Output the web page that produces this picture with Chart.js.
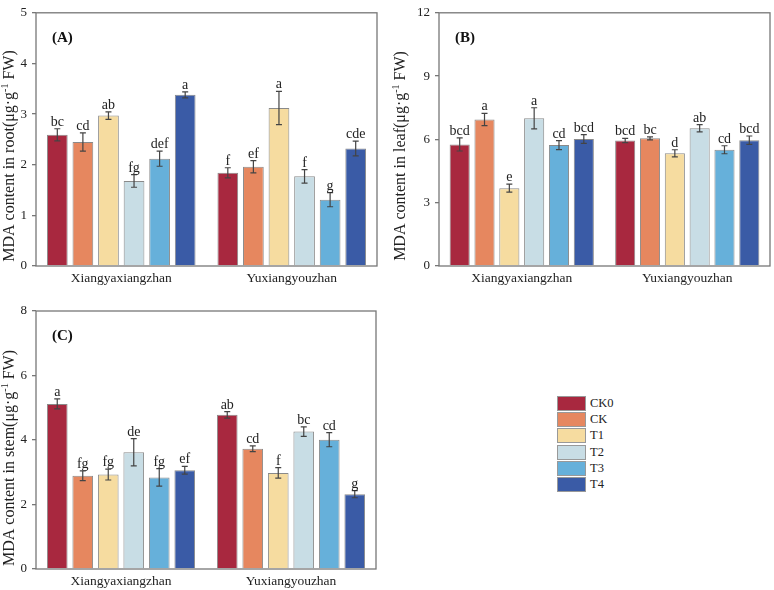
<!DOCTYPE html>
<html>
<head>
<meta charset="utf-8">
<script src="https://cdn.jsdelivr.net/npm/chart.js@4.4.1/dist/chart.umd.min.js"></script>
<style>
	body { margin: 0; background: #fff; }
	.wrap { position: relative; width: 774px; height: 590px; font-family: "Liberation Serif", "Times New Roman", serif; }
	canvas { position: absolute; }
	.legend { position: absolute; left: 557px; top: 395px; }
	.legend-row { height: 16.3px; display: flex; align-items: center; font-size: 12.5px; color: #222; }
	.legend-box { width: 29px; height: 15px; border: 1px solid #999; box-sizing: border-box; margin-right: 4px; }
</style>
</head>
<body>
<div class="wrap">
	<canvas id="chartA" width="390" height="290" style="left:0;top:0"></canvas>
	<canvas id="chartB" width="384" height="290" style="left:390px;top:0"></canvas>
	<canvas id="chartC" width="390" height="300" style="left:0;top:290px"></canvas>
	<div class="legend" id="legend"></div>
</div>
<script>

const groups = ['Xiangyaxiangzhan', 'Yuxiangyouzhan'];
const treatments = ['CK0', 'CK', 'T1', 'T2', 'T3', 'T4'];
const colors = ['#A8283F', '#E6875F', '#F6DCA0', '#C8DDE5', '#66B0DA', '#3A5BA6'];

// one row per treatment: [Xiangyaxiangzhan, Yuxiangyouzhan]
const rootMean = [[2.59, 1.84], [2.45, 1.96], [2.97, 3.12], [1.68, 1.77], [2.12, 1.31], [3.38, 2.32]];
const rootErr = [[0.12, 0.10], [0.18, 0.12], [0.075, 0.33], [0.125, 0.135], [0.15, 0.14], [0.06, 0.145]];
const rootLetters = [['bc', 'f'], ['cd', 'ef'], ['ab', 'a'], ['fg', 'f'], ['def', 'g'], ['a', 'cde']];
const rootTicks = [0, 5, 1];

const leafMean = [[5.76, 5.95], [6.94, 6.05], [3.69, 5.34], [7.0, 6.53], [5.73, 5.51], [6.02, 5.96]];
const leafErr = [[0.31, 0.10], [0.29, 0.07], [0.19, 0.17], [0.5, 0.17], [0.21, 0.19], [0.21, 0.2]];
const leafLetters = [['bcd', 'bcd'], ['a', 'bc'], ['e', 'd'], ['a', 'ab'], ['cd', 'cd'], ['bcd', 'bcd']];
const leafTicks = [0, 12, 3];

const stemMean = [[5.12, 4.78], [2.89, 3.73], [2.93, 2.98], [3.62, 4.26], [2.84, 4.01], [3.06, 2.32]];
const stemErr = [[0.155, 0.1], [0.15, 0.09], [0.17, 0.165], [0.42, 0.15], [0.27, 0.22], [0.12, 0.11]];
const stemLetters = [['a', 'ab'], ['fg', 'cd'], ['fg', 'f'], ['de', 'bc'], ['fg', 'cd'], ['ef', 'g']];
const stemTicks = [0, 8, 2];

const FONT = '"Liberation Serif", "Times New Roman", serif';
const AXIS_COLOR = '#777';


const decorPlugin = {
	id: 'decor',
	afterDatasetsDraw(chart)
	{
		const ctx = chart.ctx;
		const yScale = chart.scales.y;

		ctx.save();
		chart.data.datasets.forEach((ds, i) => {
			const meta = chart.getDatasetMeta(i);
			meta.data.forEach((bar, j) => {
				const top = yScale.getPixelForValue(ds.data[j] + ds.err[j]);
				const bottom = yScale.getPixelForValue(ds.data[j] - ds.err[j]);
				ctx.strokeStyle = '#444';
				ctx.lineWidth = 1.2;
				ctx.beginPath();
				ctx.moveTo(bar.x, top);
				ctx.lineTo(bar.x, bottom);
				ctx.moveTo(bar.x - 3, top);
				ctx.lineTo(bar.x + 3, top);
				ctx.moveTo(bar.x - 3, bottom);
				ctx.lineTo(bar.x + 3, bottom);
				ctx.stroke();

				ctx.fillStyle = '#222';
				ctx.font = '14px ' + FONT;
				ctx.textAlign = 'center';
				ctx.textBaseline = 'alphabetic';
				ctx.fillText(ds.letters[j], bar.x, top - 3);
			});
		});
		ctx.restore();
	},
	afterDraw(chart)
	{
		const ctx = chart.ctx;
		const area = chart.chartArea;
		const opts = chart.options.plugins.decor;

		ctx.save();
		ctx.strokeStyle = AXIS_COLOR;
		ctx.lineWidth = 1.3;
		ctx.strokeRect(area.left, area.top, area.right - area.left, area.bottom - area.top);

		ctx.fillStyle = '#111';
		ctx.font = 'bold 15px ' + FONT;
		ctx.textAlign = 'left';
		ctx.textBaseline = 'alphabetic';
		ctx.fillText(opts.label, area.left + 16, area.top + 29);

		// y title with a raised "-1"
		const parts = [opts.title[0], '-1', opts.title[1]];
		ctx.translate(opts.titleX, opts.titleY);
		ctx.rotate(-Math.PI / 2);
		ctx.font = '16px ' + FONT;
		const w0 = ctx.measureText(parts[0]).width;
		const w2 = ctx.measureText(parts[2]).width;
		ctx.font = '10px ' + FONT;
		const w1 = ctx.measureText(parts[1]).width;
		let x = -(w0 + w1 + w2) / 2;
		ctx.textBaseline = 'middle';
		ctx.font = '16px ' + FONT;
		ctx.fillStyle = '#222';
		ctx.fillText(parts[0], x, 0);
		x += w0;
		ctx.font = '10px ' + FONT;
		ctx.fillText(parts[1], x, -5);
		x += w1;
		ctx.font = '16px ' + FONT;
		ctx.fillText(parts[2], x, 0);
		ctx.restore();
	}
};


function makeChart(canvas_id, means, errs, letters, ticks, panel)
{
	const datasets = treatments.map((name, i) => ({
		label: name,
		data: means[i],
		err: errs[i],
		letters: letters[i],
		backgroundColor: colors[i],
		borderColor: '#8a8a8a',
		borderWidth: 1,
		categoryPercentage: 0.9,
		barPercentage: 0.81,
	}));

	return new Chart(document.getElementById(canvas_id), {
		type: 'bar',
		data: { labels: groups, datasets: datasets },
		plugins: [decorPlugin],
		options: {
			responsive: false,
			animation: false,
			layout: { padding: { top: panel.top, right: panel.right, left: 0, bottom: 0 } },
			plugins: {
				legend: { display: false },
				tooltip: { enabled: false },
				decor: panel,
			},
			scales: {
				x: {
					grid: { display: false, drawTicks: false },
					border: { display: false },
					ticks: { color: '#222', font: { family: FONT, size: 13.5 }, padding: 4 },
					afterFit: (s) => { s.height = panel.xHeight; },
				},
				y: {
					min: ticks[0],
					max: ticks[1],
					ticks: { stepSize: ticks[2], color: '#222', font: { family: FONT, size: 13 }, padding: 5 },
					grid: { display: true, drawOnChartArea: false, tickLength: 4, color: AXIS_COLOR, lineWidth: 1.3 },
					border: { display: false },
					afterFit: (s) => { s.width = panel.yWidth; },
				},
			},
		},
	});
}


window.onload = function()
{
	makeChart('chartA', rootMean, rootErr, rootLetters, rootTicks, {
		label: '(A)', title: ['MDA content in root(μg·g', ' FW)'],
		titleX: 10, titleY: 156, top: 7, right: 13, yWidth: 36, xHeight: 24,
	});

	makeChart('chartB', leafMean, leafErr, leafLetters, leafTicks, {
		label: '(B)', title: ['MDA content in leaf(μg·g', ' FW)'],
		titleX: 11, titleY: 156, top: 7, right: 4, yWidth: 49, xHeight: 24,
	});

	makeChart('chartC', stemMean, stemErr, stemLetters, stemTicks, {
		label: '(C)', title: ['MDA content in stem(μg·g', ' FW)'],
		titleX: 10, titleY: 168, top: 21, right: 14, yWidth: 36, xHeight: 21,
	});

	const legend = document.getElementById('legend');
	treatments.forEach((name, i) => {
		const row = document.createElement('div');
		row.className = 'legend-row';
		const box = document.createElement('div');
		box.className = 'legend-box';
		box.style.background = colors[i];
		const text = document.createElement('span');
		text.innerText = name;
		row.append(box, text);
		legend.append(row);
	});
}

</script>
</body>
</html>
